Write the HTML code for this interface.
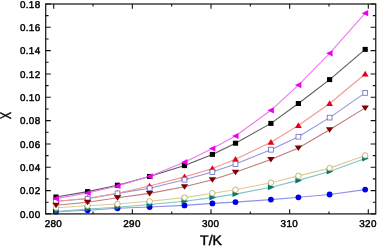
<!DOCTYPE html>
<html><head><meta charset="utf-8"><style>html,body{margin:0;padding:0;background:#fff;width:378px;height:246px;overflow:hidden} svg{display:block}</style></head>
<body><svg width="378" height="246" viewBox="0 0 378 246">
<style>text{text-rendering:geometricPrecision} .t{font-family:"Liberation Sans",Arial,sans-serif;font-size:9.9px;letter-spacing:0.35px;fill:#000;stroke:#000;stroke-width:0.45px} .a{font-family:"Liberation Sans",Arial,sans-serif;font-size:14px;fill:#000;stroke:#000;stroke-width:0.45px}</style>
<polyline points="56.0,211.7 87.6,210.3 117.5,208.3 149.6,207.0 184.5,205.4 212.4,203.4 235.5,202.1 270.9,199.6 298.4,197.3 329.6,194.5 365.2,189.6" fill="none" stroke="#9090e8" stroke-width="1.1"/><polyline points="56.0,211.6 87.6,209.0 117.5,207.3 149.6,204.5 184.5,201.3 212.4,197.6 235.5,194.1 270.9,187.3 298.4,180.4 329.6,171.6 365.2,158.6" fill="none" stroke="#80c4c4" stroke-width="1.1"/><polyline points="56.0,207.7 87.6,205.7 117.5,204.0 149.6,201.3 184.5,197.6 212.4,193.2 235.5,189.8 270.9,182.8 298.4,175.9 329.6,168.1 365.2,155.4" fill="none" stroke="#dccc98" stroke-width="1.1"/><polyline points="56.0,205.2 87.6,202.2 117.5,197.7 149.6,193.4 184.5,186.7 212.4,179.7 235.5,172.2 270.9,159.5 298.4,148.0 329.6,129.7 365.2,107.9" fill="none" stroke="#bc7c7c" stroke-width="1.1"/><polyline points="56.0,201.2 87.6,198.7 117.5,193.4 149.6,188.3 184.5,179.7 212.4,172.0 235.5,164.1 270.9,149.7 298.4,136.7 329.6,117.6 365.2,92.9" fill="none" stroke="#9494d8" stroke-width="1.1"/><polyline points="56.0,201.5 87.6,198.2 117.5,193.2 149.6,186.0 184.5,176.9 212.4,168.5 235.5,159.3 270.9,142.2 298.4,125.5 329.6,103.5 365.2,74.0" fill="none" stroke="#f39890" stroke-width="1.1"/><polyline points="56.0,197.0 87.6,191.6 117.5,185.2 149.6,176.5 184.5,165.6 212.4,154.4 235.5,143.2 270.9,123.4 298.4,103.5 329.6,79.6 365.2,49.4" fill="none" stroke="#5a5a5a" stroke-width="1.1"/><polyline points="56.0,198.6 87.6,193.0 117.5,186.0 149.6,176.3 184.5,162.2 212.4,148.5 235.5,136.0 270.9,110.3 298.4,85.1 329.6,53.3 365.2,13.2" fill="none" stroke="#f078f0" stroke-width="1.1"/><circle cx="56.00" cy="211.70" r="2.9" fill="#0000e8"/><circle cx="87.60" cy="210.30" r="2.9" fill="#0000e8"/><circle cx="117.50" cy="208.30" r="2.9" fill="#0000e8"/><circle cx="149.60" cy="207.00" r="2.9" fill="#0000e8"/><circle cx="184.50" cy="205.40" r="2.9" fill="#0000e8"/><circle cx="212.40" cy="203.40" r="2.9" fill="#0000e8"/><circle cx="235.50" cy="202.10" r="2.9" fill="#0000e8"/><circle cx="270.90" cy="199.60" r="2.9" fill="#0000e8"/><circle cx="298.40" cy="197.30" r="2.9" fill="#0000e8"/><circle cx="329.60" cy="194.50" r="2.9" fill="#0000e8"/><circle cx="365.20" cy="189.60" r="2.9" fill="#0000e8"/><polygon points="59.60,211.60 53.00,208.60 53.00,214.60" fill="#007a70"/><polygon points="91.20,209.00 84.60,206.00 84.60,212.00" fill="#007a70"/><polygon points="121.10,207.30 114.50,204.30 114.50,210.30" fill="#007a70"/><polygon points="153.20,204.50 146.60,201.50 146.60,207.50" fill="#007a70"/><polygon points="188.10,201.30 181.50,198.30 181.50,204.30" fill="#007a70"/><polygon points="216.00,197.60 209.40,194.60 209.40,200.60" fill="#007a70"/><polygon points="239.10,194.10 232.50,191.10 232.50,197.10" fill="#007a70"/><polygon points="274.50,187.30 267.90,184.30 267.90,190.30" fill="#007a70"/><polygon points="302.00,180.40 295.40,177.40 295.40,183.40" fill="#007a70"/><polygon points="333.20,171.60 326.60,168.60 326.60,174.60" fill="#007a70"/><polygon points="368.80,158.60 362.20,155.60 362.20,161.60" fill="#007a70"/><circle cx="56.00" cy="207.70" r="2.75" fill="#fff" stroke="#b8a860" stroke-width="0.85"/><circle cx="87.60" cy="205.70" r="2.75" fill="#fff" stroke="#b8a860" stroke-width="0.85"/><circle cx="117.50" cy="204.00" r="2.75" fill="#fff" stroke="#b8a860" stroke-width="0.85"/><circle cx="149.60" cy="201.30" r="2.75" fill="#fff" stroke="#b8a860" stroke-width="0.85"/><circle cx="184.50" cy="197.60" r="2.75" fill="#fff" stroke="#b8a860" stroke-width="0.85"/><circle cx="212.40" cy="193.20" r="2.75" fill="#fff" stroke="#b8a860" stroke-width="0.85"/><circle cx="235.50" cy="189.80" r="2.75" fill="#fff" stroke="#b8a860" stroke-width="0.85"/><circle cx="270.90" cy="182.80" r="2.75" fill="#fff" stroke="#b8a860" stroke-width="0.85"/><circle cx="298.40" cy="175.90" r="2.75" fill="#fff" stroke="#b8a860" stroke-width="0.85"/><circle cx="329.60" cy="168.10" r="2.75" fill="#fff" stroke="#b8a860" stroke-width="0.85"/><circle cx="365.20" cy="155.40" r="2.75" fill="#fff" stroke="#b8a860" stroke-width="0.85"/><polygon points="56.00,198.20 59.40,204.00 52.60,204.00" fill="#e8001a"/><polygon points="87.60,194.90 91.00,200.70 84.20,200.70" fill="#e8001a"/><polygon points="117.50,189.90 120.90,195.70 114.10,195.70" fill="#e8001a"/><polygon points="149.60,182.70 153.00,188.50 146.20,188.50" fill="#e8001a"/><polygon points="184.50,173.60 187.90,179.40 181.10,179.40" fill="#e8001a"/><polygon points="212.40,165.20 215.80,171.00 209.00,171.00" fill="#e8001a"/><polygon points="235.50,156.00 238.90,161.80 232.10,161.80" fill="#e8001a"/><polygon points="270.90,138.90 274.30,144.70 267.50,144.70" fill="#e8001a"/><polygon points="298.40,122.20 301.80,128.00 295.00,128.00" fill="#e8001a"/><polygon points="329.60,100.20 333.00,106.00 326.20,106.00" fill="#e8001a"/><polygon points="365.20,70.70 368.60,76.50 361.80,76.50" fill="#e8001a"/><rect x="53.60" y="198.80" width="4.8" height="4.8" fill="#fff" stroke="#6060c0" stroke-width="0.75"/><rect x="85.20" y="196.30" width="4.8" height="4.8" fill="#fff" stroke="#6060c0" stroke-width="0.75"/><rect x="115.10" y="191.00" width="4.8" height="4.8" fill="#fff" stroke="#6060c0" stroke-width="0.75"/><rect x="147.20" y="185.90" width="4.8" height="4.8" fill="#fff" stroke="#6060c0" stroke-width="0.75"/><rect x="182.10" y="177.30" width="4.8" height="4.8" fill="#fff" stroke="#6060c0" stroke-width="0.75"/><rect x="210.00" y="169.60" width="4.8" height="4.8" fill="#fff" stroke="#6060c0" stroke-width="0.75"/><rect x="233.10" y="161.70" width="4.8" height="4.8" fill="#fff" stroke="#6060c0" stroke-width="0.75"/><rect x="268.50" y="147.30" width="4.8" height="4.8" fill="#fff" stroke="#6060c0" stroke-width="0.75"/><rect x="296.00" y="134.30" width="4.8" height="4.8" fill="#fff" stroke="#6060c0" stroke-width="0.75"/><rect x="327.20" y="115.20" width="4.8" height="4.8" fill="#fff" stroke="#6060c0" stroke-width="0.75"/><rect x="362.80" y="90.50" width="4.8" height="4.8" fill="#fff" stroke="#6060c0" stroke-width="0.75"/><polygon points="56.00,208.30 59.70,202.70 52.30,202.70" fill="#800000"/><polygon points="87.60,205.30 91.30,199.70 83.90,199.70" fill="#800000"/><polygon points="117.50,200.80 121.20,195.20 113.80,195.20" fill="#800000"/><polygon points="149.60,196.50 153.30,190.90 145.90,190.90" fill="#800000"/><polygon points="184.50,189.80 188.20,184.20 180.80,184.20" fill="#800000"/><polygon points="212.40,182.80 216.10,177.20 208.70,177.20" fill="#800000"/><polygon points="235.50,175.30 239.20,169.70 231.80,169.70" fill="#800000"/><polygon points="270.90,162.60 274.60,157.00 267.20,157.00" fill="#800000"/><polygon points="298.40,151.10 302.10,145.50 294.70,145.50" fill="#800000"/><polygon points="329.60,132.80 333.30,127.20 325.90,127.20" fill="#800000"/><polygon points="365.20,111.00 368.90,105.40 361.50,105.40" fill="#800000"/><rect x="53.40" y="194.50" width="5.2" height="5.0" fill="#000"/><rect x="85.00" y="189.10" width="5.2" height="5.0" fill="#000"/><rect x="114.90" y="182.70" width="5.2" height="5.0" fill="#000"/><rect x="147.00" y="174.00" width="5.2" height="5.0" fill="#000"/><rect x="181.90" y="163.10" width="5.2" height="5.0" fill="#000"/><rect x="209.80" y="151.90" width="5.2" height="5.0" fill="#000"/><rect x="232.90" y="140.70" width="5.2" height="5.0" fill="#000"/><rect x="268.30" y="120.90" width="5.2" height="5.0" fill="#000"/><rect x="295.80" y="101.00" width="5.2" height="5.0" fill="#000"/><rect x="327.00" y="77.10" width="5.2" height="5.0" fill="#000"/><rect x="362.60" y="46.90" width="5.2" height="5.0" fill="#000"/><polygon points="52.50,198.60 59.00,195.50 59.00,201.70" fill="#ee00ee"/><polygon points="84.10,193.00 90.60,189.90 90.60,196.10" fill="#ee00ee"/><polygon points="114.00,186.00 120.50,182.90 120.50,189.10" fill="#ee00ee"/><polygon points="146.10,176.30 152.60,173.20 152.60,179.40" fill="#ee00ee"/><polygon points="181.00,162.20 187.50,159.10 187.50,165.30" fill="#ee00ee"/><polygon points="208.90,148.50 215.40,145.40 215.40,151.60" fill="#ee00ee"/><polygon points="232.00,136.00 238.50,132.90 238.50,139.10" fill="#ee00ee"/><polygon points="267.40,110.30 273.90,107.20 273.90,113.40" fill="#ee00ee"/><polygon points="294.90,85.10 301.40,82.00 301.40,88.20" fill="#ee00ee"/><polygon points="326.10,53.30 332.60,50.20 332.60,56.40" fill="#ee00ee"/><polygon points="361.70,13.20 368.20,10.10 368.20,16.30" fill="#ee00ee"/>
<rect x="45.7" y="4.0" width="330.05" height="209.90" fill="none" stroke="#1a1a1a" stroke-width="1.25"/><path d="M53.70,213.90V209.20M53.70,4.00V8.70M93.03,213.90V211.40M93.03,4.00V6.50M132.35,213.90V209.20M132.35,4.00V8.70M171.68,213.90V211.40M171.68,4.00V6.50M211.00,213.90V209.20M211.00,4.00V8.70M250.32,213.90V211.40M250.32,4.00V6.50M289.65,213.90V209.20M289.65,4.00V8.70M328.98,213.90V211.40M328.98,4.00V6.50M368.30,213.90V209.20M368.30,4.00V8.70M45.70,213.90H50.80M375.75,213.90H370.65M45.70,202.24H48.60M375.75,202.24H372.85M45.70,190.58H50.80M375.75,190.58H370.65M45.70,178.92H48.60M375.75,178.92H372.85M45.70,167.26H50.80M375.75,167.26H370.65M45.70,155.59H48.60M375.75,155.59H372.85M45.70,143.93H50.80M375.75,143.93H370.65M45.70,132.27H48.60M375.75,132.27H372.85M45.70,120.61H50.80M375.75,120.61H370.65M45.70,108.95H48.60M375.75,108.95H372.85M45.70,97.29H50.80M375.75,97.29H370.65M45.70,85.63H48.60M375.75,85.63H372.85M45.70,73.97H50.80M375.75,73.97H370.65M45.70,62.31H48.60M375.75,62.31H372.85M45.70,50.64H50.80M375.75,50.64H370.65M45.70,38.98H48.60M375.75,38.98H372.85M45.70,27.32H50.80M375.75,27.32H370.65M45.70,15.66H48.60M375.75,15.66H372.85M45.70,4.00H50.80M375.75,4.00H370.65" stroke="#111" stroke-width="1.1" fill="none"/>
<text x="40.5" y="217.70" text-anchor="end" class="t">0.00</text><text x="40.5" y="194.38" text-anchor="end" class="t">0.02</text><text x="40.5" y="171.06" text-anchor="end" class="t">0.04</text><text x="40.5" y="147.73" text-anchor="end" class="t">0.06</text><text x="40.5" y="124.41" text-anchor="end" class="t">0.08</text><text x="40.5" y="101.09" text-anchor="end" class="t">0.10</text><text x="40.5" y="77.77" text-anchor="end" class="t">0.12</text><text x="40.5" y="54.44" text-anchor="end" class="t">0.14</text><text x="40.5" y="31.12" text-anchor="end" class="t">0.16</text><text x="40.5" y="7.80" text-anchor="end" class="t">0.18</text><text x="53.40" y="226.7" text-anchor="middle" class="t">280</text><text x="132.05" y="226.7" text-anchor="middle" class="t">290</text><text x="210.70" y="226.7" text-anchor="middle" class="t">300</text><text x="289.35" y="226.7" text-anchor="middle" class="t">310</text><text x="368.00" y="226.7" text-anchor="middle" class="t">320</text><text x="211" y="244.6" text-anchor="middle" class="a">T/K</text><text transform="translate(11.4,115.7) rotate(-90) scale(0.72,1)" text-anchor="middle" class="a" style="font-size:15.3px">X</text>
</svg></body></html>
